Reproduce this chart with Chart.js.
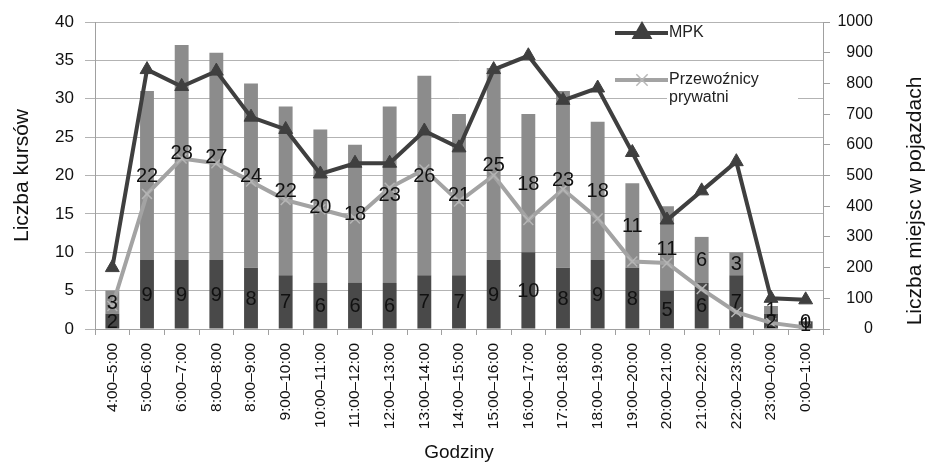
<!DOCTYPE html>
<html>
<head>
<meta charset="utf-8">
<script src="https://cdn.jsdelivr.net/npm/chart.js@4/dist/chart.umd.min.js"></script>
<style>
  html, body { margin: 0; padding: 0; background: #fff; }
  #wrap { width: 927px; height: 466px; }
</style>
</head>
<body>
<div id="wrap"><canvas id="kursyChart" width="927" height="466"></canvas></div>
<script>
// przedziały godzinowe
const godziny = ['4:00–5:00', '5:00–6:00', '6:00–7:00', '8:00–8:00', '8:00–9:00', '9:00–10:00',
    '10:00–11:00', '11:00–12:00', '12:00–13:00', '13:00–14:00', '14:00–15:00', '15:00–16:00',
    '16:00–17:00', '17:00–18:00', '18:00–19:00', '19:00–20:00', '20:00–21:00', '21:00–22:00',
    '22:00–23:00', '23:00–0:00', '0:00–1:00'];

// liczba kursów (lewa oś)
const kursyMPK = [2, 9, 9, 9, 8, 7, 6, 6, 6, 7, 7, 9, 10, 8, 9, 8, 5, 6, 7, 2, 1];
const kursyPrywatni = [3, 22, 28, 27, 24, 22, 20, 18, 23, 26, 21, 25, 18, 23, 18, 11, 11, 6, 3, 1, 0];

// liczba miejsc w pojazdach (prawa oś)
const miejscaMPK = [200, 845, 790, 840, 690, 650, 505, 540, 540, 645, 590, 845, 890, 745, 785, 575, 355, 450, 545, 100, 95];
const miejscaPrywatni = [75, 440, 555, 540, 480, 420, 390, 360, 460, 520, 415, 500, 355, 455, 360, 220, 215, 130, 55, 20, 5];

const FONT = '"Liberation Sans", Arial, sans-serif';

const barLabels = {
    id: 'barLabels',
    afterDatasetsDraw(chart) {
        const ctx = chart.ctx;
        ctx.save();
        ctx.font = '20px ' + FONT;
        ctx.fillStyle = '#111';
        ctx.textAlign = 'center';
        ctx.textBaseline = 'middle';
        [0, 1].forEach(i => {
            const meta = chart.getDatasetMeta(i);
            meta.data.forEach((bar, j) => {
                const v = chart.data.datasets[i].data[j];
                const yc = (bar.y + bar.base) / 2;
                ctx.fillText(String(v), bar.x, yc + 1);
            });
        });
        ctx.restore();
    }
};

const extras = {
    id: 'extras',
    afterDraw(chart) {
        const ctx = chart.ctx;
        ctx.save();
        // legenda
        ctx.fillStyle = '#fff';
        ctx.fillRect(667, 89, 131, 17);

        ctx.lineWidth = 4;
        ctx.strokeStyle = '#3f3f3f';
        ctx.beginPath(); ctx.moveTo(615, 33); ctx.lineTo(668, 33); ctx.stroke();
        ctx.fillStyle = '#3f3f3f';
        Chart.helpers.drawPoint(ctx, { pointStyle: 'triangle', radius: 8, borderWidth: 1, rotation: 0 }, 642, 33);

        ctx.strokeStyle = '#a3a3a3';
        ctx.lineWidth = 4;
        ctx.beginPath(); ctx.moveTo(615, 80); ctx.lineTo(668, 80); ctx.stroke();
        ctx.strokeStyle = '#b8b8b8';
        ctx.lineWidth = 1.5;
        Chart.helpers.drawPoint(ctx, { pointStyle: 'crossRot', radius: 8, borderWidth: 1.5, rotation: 0 }, 642, 80);

        ctx.fillStyle = '#222';
        ctx.font = '16px ' + FONT;
        ctx.textAlign = 'left';
        ctx.textBaseline = 'middle';
        ctx.fillText('MPK', 669, 33);
        ctx.fillText('Przewoźnicy', 669, 80);
        ctx.fillText('prywatni', 669, 98);

        // tytuł prawej osi
        ctx.font = '21px ' + FONT;
        ctx.fillStyle = '#111';
        ctx.textAlign = 'center';
        ctx.translate(915, 201);
        ctx.rotate(-Math.PI / 2);
        ctx.fillText('Liczba miejsc w pojazdach', 0, 0);
        ctx.restore();
    }
};

document.addEventListener('DOMContentLoaded', () => {
    const ctx = document.getElementById('kursyChart').getContext('2d');
    new Chart(ctx, {
        type: 'bar',
        data: {
            labels: godziny,
            datasets: [{
                label: 'Kursy MPK',
                data: kursyMPK,
                backgroundColor: '#494949',
                barPercentage: 0.4,
                categoryPercentage: 1,
                yAxisID: 'y',
                order: 1
            }, {
                label: 'Kursy przewoźników prywatnych',
                data: kursyPrywatni,
                backgroundColor: '#8c8c8c',
                barPercentage: 0.4,
                categoryPercentage: 1,
                yAxisID: 'y',
                order: 1
            }, {
                type: 'line',
                label: 'MPK',
                data: miejscaMPK,
                borderColor: '#3f3f3f',
                backgroundColor: '#3f3f3f',
                borderWidth: 4,
                pointStyle: 'triangle',
                pointRadius: 8,
                pointBorderWidth: 1,
                tension: 0,
                yAxisID: 'y1',
                order: 0
            }, {
                type: 'line',
                label: 'Przewoźnicy prywatni',
                data: miejscaPrywatni,
                borderColor: '#a3a3a3',
                backgroundColor: '#a3a3a3',
                borderWidth: 4,
                pointStyle: 'crossRot',
                pointRadius: 7,
                pointBorderColor: '#b5b5b5',
                pointBorderWidth: 1.5,
                tension: 0,
                yAxisID: 'y1',
                order: 0
            }]
        },
        options: {
            responsive: false,
            animation: false,
            layout: { padding: { top: 22, left: 0, right: 54, bottom: 0 } },
            plugins: {
                legend: { display: false },
                tooltip: { enabled: false }
            },
            scales: {
                x: {
                    stacked: true,
                    afterFit: s => { s.height = 137; },
                    grid: { drawOnChartArea: false, offset: true, tickLength: 6, color: '#a0a0a0' },
                    border: { color: '#a0a0a0' },
                    ticks: {
                        autoSkip: false, minRotation: 90, maxRotation: 90,
                        padding: 8, color: '#111', font: { family: FONT, size: 15.5 }
                    },
                    title: {
                        display: true, text: 'Godziny', color: '#111',
                        font: { family: FONT, size: 19 }, padding: { top: 4, bottom: 2 }
                    }
                },
                y: {
                    stacked: true,
                    position: 'left',
                    min: 0, max: 40,
                    afterFit: s => { s.width = 95; },
                    grid: { color: '#b3b3b3', tickLength: 10 },
                    border: { color: '#a0a0a0' },
                    ticks: { stepSize: 5, padding: 11, color: '#111', font: { family: FONT, size: 17 } },
                    title: {
                        display: true, text: 'Liczba kursów', color: '#111',
                        font: { family: FONT, size: 21 }, padding: { top: 10, bottom: 4 }
                    }
                },
                y1: {
                    position: 'right',
                    min: 0, max: 1000,
                    afterFit: s => { s.width = 50; },
                    grid: { drawOnChartArea: false, tickLength: 7, color: '#a0a0a0' },
                    border: { color: '#a0a0a0' },
                    ticks: {
                        stepSize: 100, padding: 7, crossAlign: 'far', color: '#111',
                        font: { family: FONT, size: 16 },
                        callback: v => String(v)
                    }
                }
            }
        },
        plugins: [barLabels, extras]
    });
});
</script>
</body>
</html>
